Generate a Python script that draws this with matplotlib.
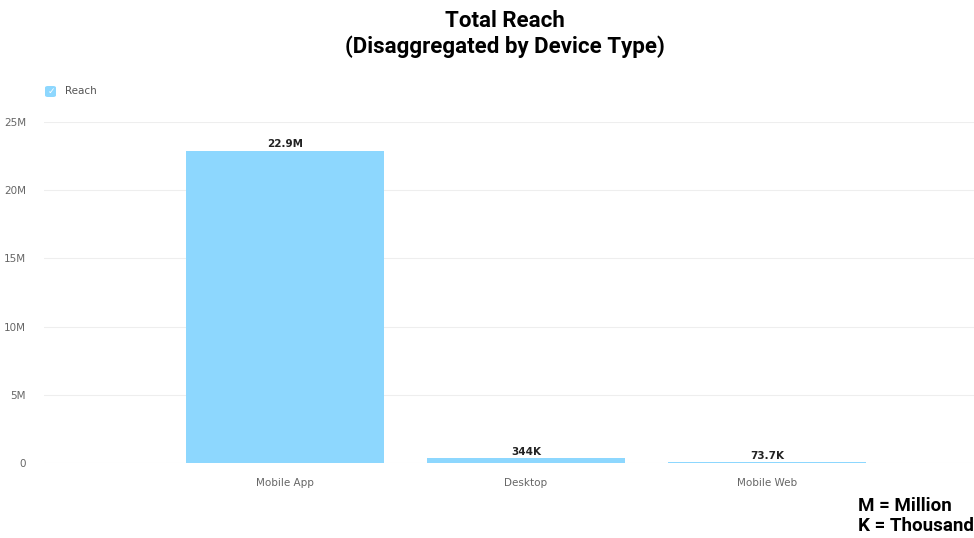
import matplotlib.pyplot as plt
from matplotlib.patches import FancyBboxPatch
from matplotlib.ticker import FuncFormatter

devices = ["Mobile App", "Desktop", "Mobile Web"]
reach = [22.9e6, 344e3, 73.7e3]
reach_labels = ["22.9M", "344K", "73.7K"]
yticks = [0, 5e6, 10e6, 15e6, 20e6, 25e6]

bar_color = "#8dd7fe"
grey = "#666666"

fig = plt.figure(figsize=(9.74, 5.38), dpi=100)
ax = fig.add_axes([0.0452, 0.1394, 0.9548, 0.6338])

x = list(range(len(devices)))
ax.bar(x, reach, width=0.822, color=bar_color, zorder=2)

for xi, v, lab in zip(x, reach, reach_labels):
    ax.annotate(lab, (xi, v), xytext=(0, 1), textcoords="offset points",
                ha="center", va="bottom", fontsize=7.5, fontweight="bold",
                color="#222222")

ax.set_xlim(-1.0, 2.86)
ax.set_ylim(0, 25e6)
ax.set_yticks(yticks)
ax.yaxis.set_major_formatter(FuncFormatter(lambda v, p: "0" if v == 0 else f"{v/1e6:.0f}M"))
ax.set_xticks(x)
ax.set_xticklabels(devices)
ax.tick_params(axis="both", length=0, labelsize=7.5, labelcolor=grey)
ax.tick_params(axis="y", pad=13)
ax.tick_params(axis="x", pad=11)
ax.grid(axis="y", color="#eeeeee", linewidth=0.8, zorder=0)
for s in ax.spines.values():
    s.set_visible(False)

# legend checkbox
box = FancyBboxPatch((45 / 974, 1 - 97 / 538), 11 / 974, 11 / 538,
                     boxstyle="round,pad=0,rounding_size=0.003",
                     transform=fig.transFigure, facecolor=bar_color, edgecolor="none")
fig.patches.append(box)
fig.text(47.5 / 974, 1 - 91.5 / 538, "\u2713", color="white", fontsize=6.5,
         va="center", ha="left", fontweight="bold")
fig.text(65 / 974, 1 - 91 / 538, "Reach", fontsize=7.5, color="#555555", va="center")

fig.text(505 / 974, 1 - 34 / 538, "Total Reach\n(Disaggregated by Device Type)",
         ha="center", va="center", fontsize=16, fontweight="bold",
         family="Roboto", linespacing=1.2)

fig.text(858 / 974, 1 - 516 / 538, "M = Million\nK = Thousand", ha="left", va="center",
         fontsize=13.5, fontweight="bold", family="Roboto", linespacing=1.15)

fig.savefig("out.png", dpi=100)
